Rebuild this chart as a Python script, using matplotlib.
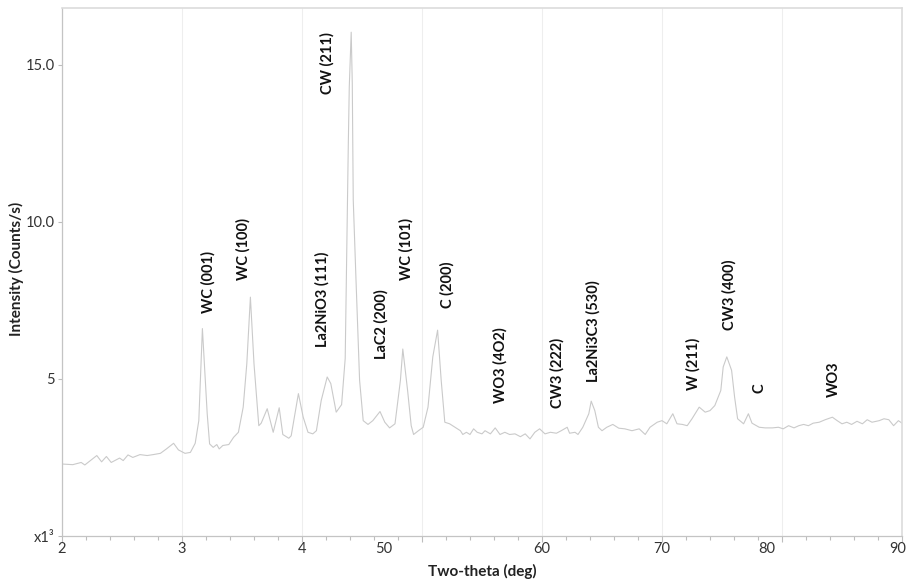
import matplotlib
matplotlib.use("Agg")
import matplotlib.pyplot as plt
import matplotlib.transforms as mtransforms

plt.rcParams['font.family'] = ['Lato', 'DejaVu Sans']

# ---- data (intensity in thousands of counts/s) ----
two_theta = [20.0, 20.9, 21.6, 21.9, 22.9, 23.3, 23.7, 24.1, 24.8, 25.1, 25.5, 25.9,
             26.5, 27.1, 27.6, 28.2, 28.7, 29.3, 29.7, 30.25, 30.7, 31.1, 31.4, 31.7,
             32.1, 32.3, 32.6, 32.9, 33.1, 33.4, 33.9, 34.3, 34.7, 35.1, 35.4, 35.7,
             36.0, 36.4, 36.6, 37.1, 37.6, 38.1, 38.4, 38.9, 39.1, 39.7, 40.1, 40.5,
             40.9, 41.2, 41.6, 42.1, 42.4, 42.85, 43.3, 43.6, 43.86, 43.94, 44.1, 44.19,
             44.27, 44.5, 44.8, 45.1, 45.5, 45.9, 46.5, 46.9, 47.3, 47.75, 48.2, 48.4,
             48.8, 49.1, 49.3, 49.7, 50.1, 50.5, 50.9, 51.3, 51.6, 51.9, 52.3, 52.75,
             53.2, 53.4, 53.7, 54.0, 54.3, 54.6, 55.0, 55.25, 55.7, 56.1, 56.5, 56.9,
             57.3, 57.75, 58.2, 58.6, 59.0, 59.4, 59.8, 60.25, 60.7, 61.2, 61.6, 62.1,
             62.3, 62.75, 63.0, 63.4, 63.9, 64.1, 64.4, 64.7, 65.0, 65.4, 65.9, 66.4,
             66.9, 67.5, 68.1, 68.6, 69.0, 69.6, 70.0, 70.4, 70.9, 71.25, 71.7, 72.1,
             72.5, 73.1, 73.6, 74.0, 74.4, 74.9, 75.1, 75.4, 75.8, 76.05, 76.3, 76.8,
             77.2, 77.5, 78.1, 78.6, 79.2, 79.7, 80.1, 80.55, 81.0, 81.4, 81.8, 82.2,
             82.6, 83.1, 83.6, 84.2, 84.6, 85.0, 85.4, 85.8, 86.25, 86.7, 87.1, 87.5,
             88.1, 88.5, 88.9, 89.3, 89.7, 90.0]
intensity = [2.29, 2.27, 2.34, 2.26, 2.56, 2.36, 2.53, 2.34, 2.48, 2.40, 2.58, 2.50,
             2.59, 2.56, 2.59, 2.63, 2.77, 2.95, 2.74, 2.63, 2.66, 2.95, 3.67, 6.60,
             3.89, 2.93, 2.82, 2.91, 2.77, 2.88, 2.91, 3.14, 3.30, 4.10, 5.48, 7.60,
             5.48, 3.51, 3.59, 4.05, 3.30, 4.08, 3.23, 3.11, 3.19, 4.53, 3.78, 3.30,
             3.25, 3.35, 4.31, 5.06, 4.85, 3.94, 4.18, 5.65, 12.5, 14.3, 16.03, 14.4,
             10.7, 8.15, 4.95, 3.67, 3.55, 3.67, 3.96, 3.62, 3.44, 3.57, 4.95, 5.95,
             4.63, 3.51, 3.23, 3.35, 3.46, 4.10, 5.70, 6.55, 4.95, 3.62, 3.57, 3.46,
             3.35, 3.23, 3.30, 3.23, 3.41, 3.30, 3.25, 3.35, 3.25, 3.44, 3.23, 3.30,
             3.23, 3.25, 3.16, 3.25, 3.09, 3.30, 3.41, 3.25, 3.30, 3.27, 3.35, 3.46,
             3.27, 3.30, 3.23, 3.46, 3.89, 4.29, 3.99, 3.46, 3.35, 3.46, 3.55, 3.43,
             3.41, 3.35, 3.41, 3.23, 3.46, 3.62, 3.67, 3.57, 3.89, 3.57, 3.55, 3.51,
             3.73, 4.10, 3.94, 3.99, 4.15, 4.63, 5.38, 5.70, 5.27, 4.42, 3.73, 3.57,
             3.89, 3.59, 3.46, 3.44, 3.44, 3.46, 3.41, 3.51, 3.44, 3.51, 3.55, 3.51,
             3.59, 3.62, 3.70, 3.78, 3.67, 3.57, 3.62, 3.55, 3.65, 3.57, 3.70, 3.62,
             3.67, 3.73, 3.70, 3.51, 3.67, 3.59]

peak_labels = ["WC (001)", "WC (100)", "La2NiO3 (111)", "CW (211)", "LaC2 (200)",
               "WC (101)", "C (200)", "WO3 (4O2)", "CW3 (222)", "La2Ni3C3 (530)",
               "W (211)", "CW3 (400)", "C", "WO3"]
peak_label_x = [32.2, 35.1, 41.7, 42.1, 46.6, 48.7, 52.1, 56.5, 61.3, 64.25,
                72.6, 75.6, 78.1, 84.3]
peak_label_y = [7.1, 8.15, 6.0, 14.05, 5.64, 8.15, 7.26, 4.24, 4.08, 4.9,
                4.65, 6.56, 4.55, 4.43]

x_tick_labels = ["2", "3", "4", "50", "60", "70", "80", "90"]
x_tick_label_pos = [20, 30, 40, 46.8, 60, 70, 78.7, 89.6]
y_ticks = [0, 5, 10, 15]
y_tick_labels = ["x1\u00b3", "5", "10.0", "15.0"]

# ---- figure ----
W, H = 911, 582
fig = plt.figure(figsize=(W / 100, H / 100), dpi=100)
ax = fig.add_axes([62 / W, (H - 536) / H, 840 / W, 528 / H])

ax.plot(two_theta, intensity, color="#cacaca", lw=0.8, zorder=2)

ax.set_xlim(20, 90)
ax.set_ylim(0, 16.8)

# x ticks: gridlines at major ticks, labels placed separately
ax.set_xticks(range(20, 91, 10))
ax.set_xticks(range(20, 91, 2), minor=True)
ax.tick_params(axis="x", which="both", labelbottom=False, direction="out",
               color="#bdbdbd", width=0.8)
ax.tick_params(axis="x", which="major", length=4)
ax.tick_params(axis="x", which="minor", length=3)
ax.grid(axis="x", which="major", color="#eeeeee", lw=0.8, zorder=0)

trans = mtransforms.blended_transform_factory(ax.transData, ax.transAxes)
for lab, pos in zip(x_tick_labels, x_tick_label_pos):
    ax.text(pos, -0.012, lab, transform=trans, ha="center", va="top",
            fontsize=10.5, color="#333333")

ax.set_yticks(y_ticks)
ax.set_yticklabels(y_tick_labels)
ax.tick_params(axis="y", direction="out", length=3, color="#bdbdbd", width=0.8,
               labelsize=10.5, labelcolor="#333333", pad=2)

for side in ["left", "bottom"]:
    ax.spines[side].set_color("#c4c4c4")
    ax.spines[side].set_linewidth(0.9)
for side in ["top", "right"]:
    ax.spines[side].set_color("#dcdcdc")
    ax.spines[side].set_linewidth(1.2)

for lab, px, py in zip(peak_labels, peak_label_x, peak_label_y):
    ax.text(px, py, lab, rotation=90, ha="center", va="bottom",
            fontsize=10.5, fontweight="bold", color="#111111", zorder=3)

ax.set_xlabel("Two-theta (deg)", fontsize=11, fontweight="bold", color="#222222")
ax.set_ylabel("Intensity (Counts/s)", fontsize=11, fontweight="bold", color="#222222")
ax.xaxis.set_label_coords(0.5, -0.052)
ax.yaxis.set_label_coords(-0.045, 0.505)

fig.savefig("out.png", dpi=100, facecolor="white")
